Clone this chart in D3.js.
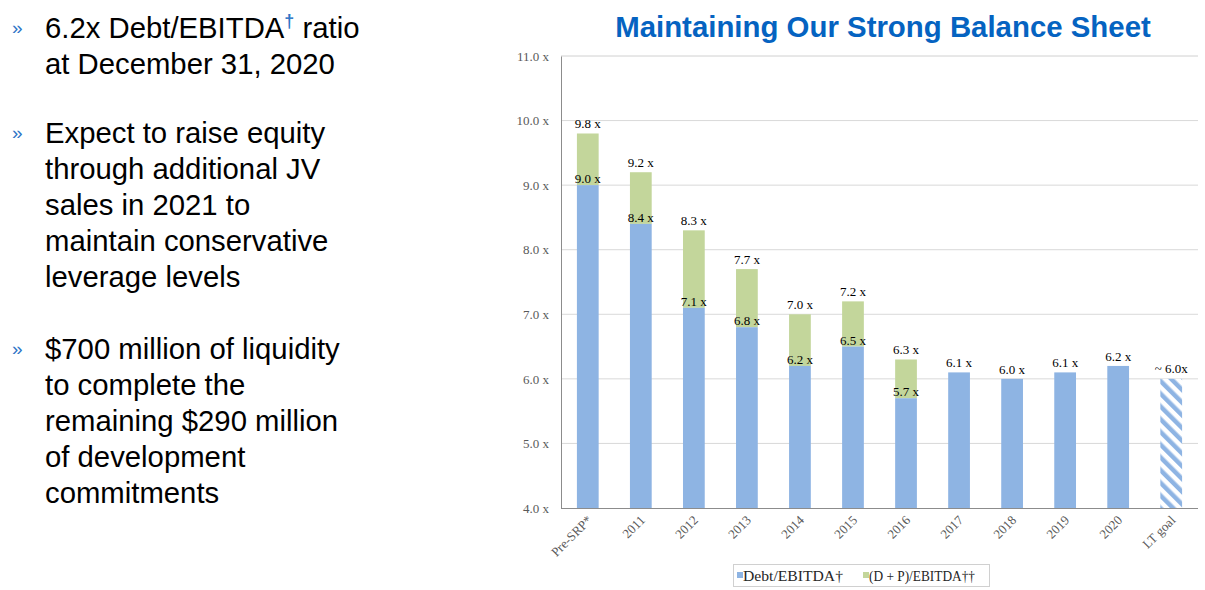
<!DOCTYPE html>
<html><head><meta charset="utf-8">
<script src="https://cdn.jsdelivr.net/npm/d3@7"></script>
<style>
body{margin:0;background:#fff;}
svg{display:block;}
</style></head>
<body>
<svg id="c" width="1205" height="590"></svg>
<script>
const categories = ["Pre-SRP*","2011","2012","2013","2014","2015","2016","2017","2018","2019","2020","LT goal"];
const debtEbitda = [9.0,8.4,7.1,6.8,6.2,6.5,5.7,6.1,6.0,6.1,6.2,6.0];
const dpEbitda   = [9.8,9.2,8.3,7.7,7.0,7.2,6.3,null,null,null,null,null];
const goalFlags  = [false,false,false,false,false,false,false,false,false,false,false,true];
const yTicks = [4,5,6,7,8,9,10,11];
const seriesNames = ["Debt/EBITDA\u2020","(D + P)/EBITDA\u2020\u2020"];
const bullets = [
  [["6.2x Debt/EBITDA","\u2020"," ratio"],["at December 31, 2020"]],
  [["Expect to raise equity"],["through additional JV"],["sales in 2021 to"],["maintain conservative"],["leverage levels"]],
  [["$700 million of liquidity"],["to complete the"],["remaining $290 million"],["of development"],["commitments"]]
];
const title = "Maintaining Our Strong Balance Sheet";

const svg = d3.select("#c");
const serif = "'Liberation Serif','Times New Roman',serif";
const sans = "'Liberation Sans',Arial,sans-serif";
const blue = "#8EB4E3", green = "#C3D69B";

// left text
const bulletTop = [37.5, 142.5, 358.5];
bullets.forEach((b,i)=>{
  svg.append("text").attr("x",12).attr("y",bulletTop[i]-4).attr("font-family",sans)
    .attr("font-size",19).attr("fill","#2E75C6").text("\u00bb");
  b.forEach((line,j)=>{
    const t = svg.append("text").attr("x",45).attr("y",bulletTop[i]+j*36.2)
      .attr("font-family",sans).attr("font-size",29.3).attr("fill","#000");
    let shift=false;
    line.forEach((seg)=>{
      if(seg==="\u2020"){
        t.append("tspan").attr("font-size",18).attr("dy",-11).attr("fill","#2E75C6").attr("font-weight","bold").text(seg);
        shift=true;
      } else {
        const ts=t.append("tspan").text(seg);
        if(shift){ts.attr("dy",11);shift=false;}
      }
    });
  });
});

// title
svg.append("text").attr("x",883).attr("y",37).attr("text-anchor","middle")
  .attr("font-family",sans).attr("font-weight","bold").attr("font-size",29.4)
  .attr("fill","#0563C1").text(title);

const x0=561, x1=1198, yTop=56, yBot=508;
const x = d3.scaleBand().domain(categories).range([x0,x1]).paddingInner(0.59).paddingOuter(0.3);
const y = d3.scaleLinear().domain([4,11]).range([yBot,yTop]);

const defs = svg.append("defs");
const pat = defs.append("pattern").attr("id","hatch").attr("patternUnits","userSpaceOnUse")
  .attr("width",9).attr("height",9).attr("patternTransform","rotate(-45)");
pat.append("rect").attr("width",9).attr("height",9).attr("fill","#fff");
pat.append("rect").attr("width",4.5).attr("height",9).attr("fill",blue);

// grid
svg.append("g").selectAll("line").data(yTicks.filter(d=>d>4)).join("line")
  .attr("x1",x0).attr("x2",x1).attr("y1",d=>y(d)).attr("y2",d=>y(d))
  .attr("stroke",d=>d===11?"#D0D0D0":"#D9D9D9").attr("stroke-width",1);

// y axis
const yAxis = d3.axisLeft(y).tickValues(yTicks).tickSize(0).tickPadding(12).tickFormat(d=>d3.format(".1f")(d)+" x");
const gy = svg.append("g").attr("transform",`translate(${x0},0)`).call(yAxis);
gy.select(".domain").attr("stroke","#8C8C8C");
gy.selectAll("text").attr("font-family",serif).attr("font-size",13).attr("fill","#595959");

// bars
const idx = d3.range(categories.length);
svg.append("g").selectAll("rect").data(idx.filter(i=>dpEbitda[i]!=null)).join("rect")
  .attr("x",i=>x(categories[i])).attr("width",x.bandwidth())
  .attr("y",i=>y(dpEbitda[i])).attr("height",i=>y(debtEbitda[i])-y(dpEbitda[i]))
  .attr("fill",green);
svg.append("g").selectAll("rect").data(idx).join("rect")
  .attr("x",i=>x(categories[i])).attr("width",x.bandwidth())
  .attr("y",i=>y(debtEbitda[i])).attr("height",i=>y(4)-y(debtEbitda[i]))
  .attr("fill",i=>goalFlags[i]?"url(#hatch)":blue);

// x axis
const xAxis = d3.axisBottom(x).tickSize(0).tickPadding(0);
const gx = svg.append("g").attr("transform",`translate(0,${yBot})`).call(xAxis);
gx.select(".domain").attr("stroke","#8C8C8C").attr("d",`M${x0},0.5H${x1}`);
gx.selectAll("text").attr("font-family",serif).attr("font-size",13).attr("fill","#595959")
  .attr("text-anchor","end").attr("dy",0)
  .attr("transform","translate(5,13) rotate(-45)");

// labels
const lab = svg.append("g").attr("font-family",serif).attr("font-size",13).attr("fill","#000").attr("text-anchor","middle");
idx.forEach(i=>{
  const cx = x(categories[i])+x.bandwidth()/2;
  if(dpEbitda[i]!=null){
    lab.append("text").attr("x",cx).attr("y",y(dpEbitda[i])-5).text(d3.format(".1f")(dpEbitda[i])+" x");
    lab.append("text").attr("x",cx).attr("y",y(debtEbitda[i])-2).text(d3.format(".1f")(debtEbitda[i])+" x");
  } else if(goalFlags[i]){
    lab.append("text").attr("x",cx).attr("y",y(debtEbitda[i])-6).text("~ "+d3.format(".1f")(debtEbitda[i])+"x");
  } else {
    lab.append("text").attr("x",cx).attr("y",y(debtEbitda[i])-5).text(d3.format(".1f")(debtEbitda[i])+" x");
  }
});

// legend
const lg = svg.append("g");
lg.append("rect").attr("x",733.5).attr("y",564.5).attr("width",256).attr("height",22)
  .attr("fill","#fff").attr("stroke","#D0D0D0");
[[737,blue,seriesNames[0]],[863,green,seriesNames[1]]].forEach(([lx,c,t])=>{
  lg.append("rect").attr("x",lx).attr("y",572).attr("width",6).attr("height",6).attr("fill",c);
  lg.append("text").attr("x",lx+6).attr("y",580.5).attr("font-family",serif).attr("font-size",15.5).attr("fill","#262626")
    .attr("textLength", t.length>14?106:100).attr("lengthAdjust","spacingAndGlyphs").text(t);
});
</script>
</body></html>
